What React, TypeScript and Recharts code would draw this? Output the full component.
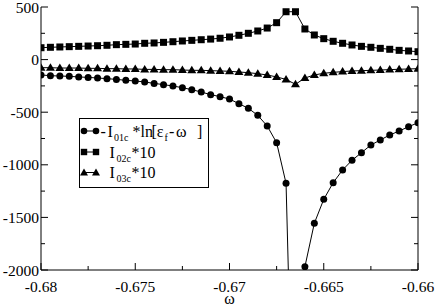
import { LineChart, Line, XAxis, YAxis } from "recharts";

const OMEGA = [
  -0.68, -0.6795, -0.679, -0.6785, -0.678, -0.6775, -0.677, -0.6765, -0.676, -0.6755,
  -0.675, -0.6745, -0.674, -0.6735, -0.673, -0.6725, -0.672, -0.6715, -0.671, -0.6705,
  -0.67, -0.6695, -0.669, -0.6685, -0.668, -0.6675, -0.667, -0.6665, -0.666, -0.6655,
  -0.665, -0.6645, -0.664, -0.6635, -0.663, -0.6625, -0.662, -0.6615, -0.661, -0.6605,
  -0.66,
];

// - I01c * ln[eps_f - w]
const I01 = [
  -146, -153, -156, -159, -165, -169, -175, -181, -188, -197,
  -203, -213, -226, -238, -251, -267, -286, -308, -333, -352,
  -375, -419, -463, -530, -631, -790, -1176, -4600, -1969, -1556,
  -1328, -1170, -1049, -957, -885, -812, -764, -717, -679, -638,
  -600,
];

// I02c * 10
const I02 = [
  113, 117, 120, 123, 126, 129, 132, 136, 142, 145,
  148, 155, 158, 164, 170, 177, 183, 189, 195, 203,
  215, 231, 250, 272, 300, 351, 455, 455, 291, 234,
  199, 174, 155, 139, 126, 117, 107, 98, 88, 82,
  75,
];

// I03c * 10
const I03 = [
  -77, -77, -80, -80, -80, -83, -83, -86, -86, -89,
  -89, -93, -93, -96, -96, -99, -102, -102, -105, -108,
  -111, -118, -124, -134, -146, -165, -188, -235, -175, -146,
  -130, -121, -114, -108, -105, -102, -99, -95, -92, -89,
  -86,
];

const X_TICKS = [-0.68, -0.6775, -0.675, -0.6725, -0.67, -0.6675, -0.665, -0.6625, -0.66];
const Y_TICKS = [-2000, -1750, -1500, -1250, -1000, -750, -500, -250, 0, 250, 500];

const rows = OMEGA.map((w, i) => ({ w, a: I01[i], b: I02[i], c: I03[i] }));

const FONT = "Liberation Serif";
const isMajorX = (v: number) => Math.abs(Math.round(v * 10000)) % 50 === 0;
const isMajorY = (v: number) => v % 500 === 0;

const BottomTick = ({ x, y, payload }: any) => {
  const major = isMajorX(payload.value);
  return (
    <g>
      <line x1={x} x2={x} y1={y} y2={y - (major ? 7 : 4)} stroke="#000" />
      {major && (
        <text x={x} y={y + 22} textAnchor="middle" fontSize={15.5} fontFamily={FONT} fill="#000">
          {String(payload.value)}
        </text>
      )}
    </g>
  );
};

const TopTick = ({ x, y, payload }: any) => (
  <line x1={x} x2={x} y1={y} y2={y + (isMajorX(payload.value) ? 7 : 4)} stroke="#000" />
);

const LeftTick = ({ x, y, payload }: any) => {
  const major = isMajorY(payload.value);
  return (
    <g>
      <line x1={x} x2={x + (major ? 7 : 4)} y1={y} y2={y} stroke="#000" />
      {major && (
        <text x={x - 2} y={y + 5.5} textAnchor="end" fontSize={15.5} fontFamily={FONT} fill="#000">
          {String(payload.value)}
        </text>
      )}
    </g>
  );
};

const RightTick = ({ x, y, payload }: any) => (
  <line x1={x} x2={x - (isMajorY(payload.value) ? 7 : 4)} y1={y} y2={y} stroke="#000" />
);

const Square = ({ cx, cy }: any) =>
  cx == null || cy == null ? null : <rect x={cx - 3.5} y={cy - 3.5} width={7} height={7} fill="#000" />;

const Triangle = ({ cx, cy }: any) =>
  cx == null || cy == null ? null : (
    <polygon points={`${cx},${cy - 4.5} ${cx - 4.5},${cy + 3} ${cx + 4.5},${cy + 3}`} fill="#000" />
  );

const LegendBox = () => {
  const mark = (y: number, kind: string) => {
    const shape = (cx: number) =>
      kind === "circle" ? (
        <circle cx={cx} cy={y} r={3.3} fill="#000" />
      ) : kind === "square" ? (
        <rect x={cx - 3.2} y={y - 3.2} width={6.4} height={6.4} fill="#000" />
      ) : (
        <polygon points={`${cx},${y - 4} ${cx - 4},${y + 3} ${cx + 4},${y + 3}`} fill="#000" />
      );
    return (
      <g>
        <line x1={84} x2={96} y1={y} y2={y} stroke="#000" />
        {shape(84)}
        {shape(96)}
      </g>
    );
  };
  const T = (x: number, y: number, s: string, size = 16) => (
    <text x={x} y={y} fontSize={size} fontFamily={FONT} fill="#000">
      {s}
    </text>
  );
  return (
    <svg width={436} height={306} style={{ position: "absolute", left: 0, top: 0, pointerEvents: "none" }}>
      <rect x={79.5} y={118.5} width={129} height={69} fill="#fff" stroke="#000" />
      {mark(131, "circle")}
      {T(100.5, 136.5, "-")}
      {T(107.5, 136.5, "I")}
      {T(114, 140.5, "01c", 10)}
      {T(132.5, 136.5, "*ln")}
      {T(151.5, 136.5, "[ε")}
      {T(164.5, 140.5, "f", 10)}
      {T(169, 136.5, "-")}
      {T(176, 136.5, "ω")}
      {T(197, 136.5, "]")}

      {mark(152, "square")}
      {T(109.5, 157.5, "I")}
      {T(116.5, 161.5, "02c", 10)}
      {T(131.5, 157.5, "*10")}

      {mark(172.5, "triangle")}
      {T(109.5, 178, "I")}
      {T(116.5, 182, "03c", 10)}
      {T(131.5, 178, "*10")}
    </svg>
  );
};

export default function App() {
  return (
    <div style={{ position: "absolute", left: 0, top: 0, width: 436, height: 306, background: "#fff" }}>
      <LineChart width={436} height={306} data={rows} margin={{ top: 7, right: 17, bottom: 0, left: 0 }}>
        <XAxis
          dataKey="w"
          type="number"
          domain={[-0.68, -0.66]}
          ticks={X_TICKS}
          interval={0}
          height={36}
          tickSize={0}
          tickMargin={0}
          tickLine={false}
          tick={<BottomTick />}
          axisLine={{ stroke: "#000" }}
          allowDataOverflow
          label={{ value: "ω", position: "insideBottom", offset: 2, fontSize: 16, fontFamily: FONT, fill: "#000" }}
        />
        <XAxis
          xAxisId="top"
          orientation="top"
          dataKey="w"
          type="number"
          domain={[-0.68, -0.66]}
          ticks={X_TICKS}
          interval={0}
          height={0}
          tickSize={0}
          tickMargin={0}
          tickLine={false}
          tick={<TopTick />}
          axisLine={{ stroke: "#000" }}
          allowDataOverflow
        />
        <YAxis
          type="number"
          domain={[-2000, 500]}
          ticks={Y_TICKS}
          interval={0}
          width={41}
          tickSize={0}
          tickMargin={0}
          tickLine={false}
          tick={<LeftTick />}
          axisLine={{ stroke: "#000" }}
          allowDataOverflow
        />
        <YAxis
          yAxisId="right"
          orientation="right"
          type="number"
          domain={[-2000, 500]}
          ticks={Y_TICKS}
          interval={0}
          width={1}
          tickSize={0}
          tickMargin={0}
          tickLine={false}
          tick={<RightTick />}
          axisLine={{ stroke: "#000" }}
          allowDataOverflow
        />
        <Line
          dataKey="a"
          stroke="#000"
          strokeWidth={1}
          dot={{ r: 3.5, fill: "#000", stroke: "none" }}
          activeDot={false}
          isAnimationActive={false}
        />
        <Line
          dataKey="b"
          stroke="#000"
          strokeWidth={1}
          dot={<Square />}
          activeDot={false}
          isAnimationActive={false}
        />
        <Line
          dataKey="c"
          yAxisId="right"
          stroke="#000"
          strokeWidth={1}
          dot={<Triangle />}
          activeDot={false}
          isAnimationActive={false}
        />
      </LineChart>
      <LegendBox />
    </div>
  );
}
